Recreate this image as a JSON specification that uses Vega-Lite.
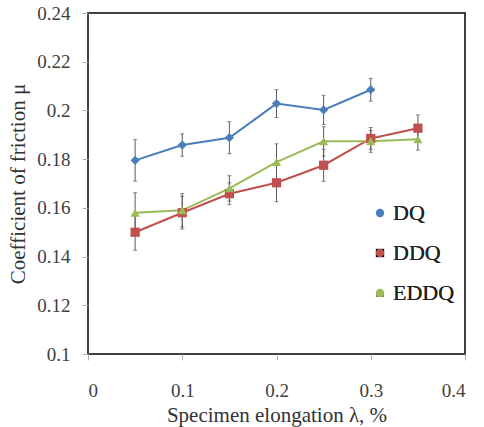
{
  "$schema": "https://vega.github.io/schema/vega-lite/v6.json",
  "width": 377,
  "height": 341,
  "autosize": {"type": "none"},
  "padding": {"left": 88, "top": 13, "right": 19, "bottom": 73},
  "background": "white",
  "data": {
    "values": [
      {"series": "DQ", "x": 0.05, "y": 0.1795, "err": 0.0085},
      {"series": "DQ", "x": 0.10, "y": 0.1858, "err": 0.0046},
      {"series": "DQ", "x": 0.15, "y": 0.1888, "err": 0.0066},
      {"series": "DQ", "x": 0.20, "y": 0.2028, "err": 0.0057},
      {"series": "DQ", "x": 0.25, "y": 0.2002, "err": 0.0060},
      {"series": "DQ", "x": 0.30, "y": 0.2085, "err": 0.0047},
      {"series": "DDQ", "x": 0.05, "y": 0.1500, "err": 0.0074},
      {"series": "DDQ", "x": 0.10, "y": 0.1580, "err": 0.0067},
      {"series": "DDQ", "x": 0.15, "y": 0.1658, "err": 0.0045},
      {"series": "DDQ", "x": 0.20, "y": 0.1703, "err": 0.0078},
      {"series": "DDQ", "x": 0.25, "y": 0.1775, "err": 0.0066},
      {"series": "DDQ", "x": 0.30, "y": 0.1885, "err": 0.0045},
      {"series": "DDQ", "x": 0.35, "y": 0.1927, "err": 0.0055},
      {"series": "EDDQ", "x": 0.05, "y": 0.1580, "err": 0.0082},
      {"series": "EDDQ", "x": 0.10, "y": 0.1590, "err": 0.0068},
      {"series": "EDDQ", "x": 0.15, "y": 0.1680, "err": 0.0052},
      {"series": "EDDQ", "x": 0.20, "y": 0.1788, "err": 0.0075},
      {"series": "EDDQ", "x": 0.25, "y": 0.1873, "err": 0.0060},
      {"series": "EDDQ", "x": 0.30, "y": 0.1873, "err": 0.0045},
      {"series": "EDDQ", "x": 0.35, "y": 0.1882, "err": 0.0045}
    ]
  },
  "encoding": {
    "x": {
      "field": "x",
      "type": "quantitative",
      "scale": {"domain": [0, 0.4], "nice": false, "zero": false},
      "axis": {
        "title": "Specimen elongation λ, %",
        "values": [0, 0.1, 0.2, 0.3, 0.4],
        "format": "~g",
        "labelPadding": 21,
        "titlePadding": 4
      }
    },
    "y": {
      "field": "y",
      "type": "quantitative",
      "scale": {"domain": [0.1, 0.24], "nice": false, "zero": false},
      "axis": {
        "title": "Coefficient of friction μ",
        "values": [0.1, 0.12, 0.14, 0.16, 0.18, 0.2, 0.22, 0.24],
        "format": "~g",
        "labelPadding": 12,
        "titlePadding": 8
      }
    }
  },
  "layer": [
    {
      "mark": {
        "type": "errorbar",
        "color": "#5a5a5a",
        "thickness": 1,
        "ticks": {"size": 4, "thickness": 1, "color": "#5a5a5a"}
      },
      "encoding": {
        "y": {"field": "y", "type": "quantitative"},
        "yError": {"field": "err"},
        "detail": {"field": "series"}
      }
    },
    {
      "mark": {"type": "line", "strokeWidth": 2},
      "encoding": {
        "stroke": {
          "field": "series",
          "type": "nominal",
          "scale": {"domain": ["DQ", "DDQ", "EDDQ"], "range": ["#4a7ebb", "#c0504d", "#9bbb59"]},
          "legend": null
        }
      }
    },
    {
      "mark": {"type": "point", "filled": true, "opacity": 1, "size": 85},
      "encoding": {
        "color": {
          "field": "series",
          "type": "nominal",
          "scale": {"domain": ["DQ", "DDQ", "EDDQ"], "range": ["#4a7ebb", "#c0504d", "#9bbb59"]}
        },
        "shape": {
          "field": "series",
          "type": "nominal",
          "scale": {"domain": ["DQ", "DDQ", "EDDQ"], "range": ["diamond", "square", "triangle-up"]}
        }
      }
    }
  ],
  "resolve": {"scale": {"color": "independent", "stroke": "independent"}},
  "config": {
    "view": {"stroke": "#404040", "strokeWidth": 2},
    "axis": {
      "grid": false,
      "domain": false,
      "ticks": true,
      "tickColor": "#b0b0b0",
      "tickSize": 6,
      "tickWidth": 1,
      "labelFont": "Liberation Serif",
      "labelFontSize": 19,
      "labelColor": "#404040",
      "titleFont": "Liberation Serif",
      "titleFontSize": 21,
      "titleFontWeight": "normal",
      "titleColor": "#333333"
    },
    "legend": {
      "orient": "none",
      "legendX": 281,
      "legendY": 189,
      "title": null,
      "labelFont": "Liberation Serif",
      "labelFontSize": 22,
      "labelColor": "#222222",
      "labelOffset": 2,
      "symbolSize": 70,
      "symbolStrokeWidth": 0,
      "rowPadding": 18,
      "padding": 0
    }
  }
}
